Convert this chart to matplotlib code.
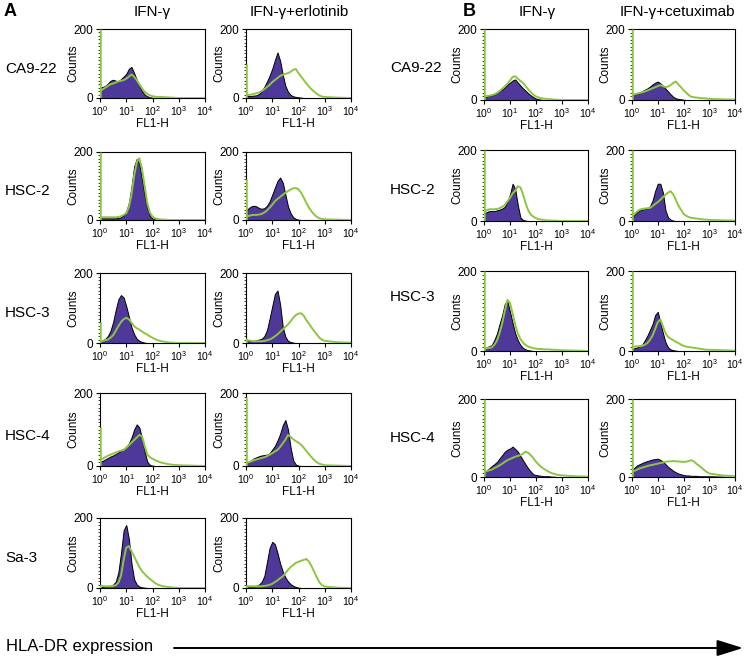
import numpy as np
import matplotlib
matplotlib.use('Agg')
import matplotlib.pyplot as plt
from matplotlib.ticker import FixedLocator, LogLocator, NullFormatter

plt.rcParams['font.family'] = ['Liberation Sans', 'DejaVu Sans']
plt.rcParams['mathtext.fontset'] = 'custom'
plt.rcParams['mathtext.rm'] = 'Liberation Sans'
plt.rcParams['mathtext.it'] = 'Liberation Sans:italic'
plt.rcParams['mathtext.bf'] = 'Liberation Sans:bold'

# ---------------- data ----------------
# log10(FL1-H) positions shared by every histogram
x_log = [0.0, 0.1, 0.2, 0.3, 0.4, 0.5, 0.6, 0.7, 0.8, 0.9,
         1.0, 1.1, 1.2, 1.3, 1.4, 1.5, 1.6, 1.7, 1.8, 1.9,
         2.0, 2.1, 2.2, 2.3, 2.4, 2.5, 2.6, 2.7, 2.8, 2.9,
         3.0, 3.5, 4.0]

x_ticks = [1, 10, 100, 1000, 10000]
x_tick_labels = ['10$^{0}$', '10$^{1}$', '10$^{2}$', '10$^{3}$', '10$^{4}$']
y_ticks = [0, 200]

panel_a_lines = ['CA9-22', 'HSC-2', 'HSC-3', 'HSC-4', 'Sa-3']
panel_a_headers = ['IFN-\u03b3', 'IFN-\u03b3+erlotinib']
panel_b_lines = ['CA9-22', 'HSC-2', 'HSC-3', 'HSC-4']
panel_b_headers = ['IFN-\u03b3', 'IFN-\u03b3+cetuximab']

# Panel A, IFN-gamma column (purple = filled, green = outline)
a_ca922_ifn_purple = [30, 32, 35, 42, 50, 53, 50, 48, 55, 62, 70, 85, 90, 72, 53, 35, 20, 10, 5, 2, 1, 0, 0, 0, 0, 0, 0, 0, 0, 0, 0, 0, 0]
a_ca922_ifn_green = [20, 25, 30, 35, 40, 42, 45, 48, 50, 52, 56, 62, 68, 62, 52, 40, 28, 18, 12, 8, 5, 4, 3, 3, 3, 2, 2, 1, 1, 0, 0, 0, 0]
a_hsc2_ifn_purple = [5, 5, 5, 5, 5, 5, 5, 6, 8, 14, 25, 50, 98, 158, 180, 165, 120, 72, 35, 12, 5, 2, 1, 0, 0, 0, 0, 0, 0, 0, 0, 0, 0]
a_hsc2_ifn_green = [8, 8, 8, 8, 8, 8, 8, 9, 11, 15, 20, 38, 75, 130, 170, 182, 150, 100, 50, 22, 10, 5, 3, 2, 1, 1, 0, 0, 0, 0, 0, 0, 0]
a_hsc3_ifn_purple = [5, 8, 12, 20, 35, 60, 95, 125, 137, 130, 105, 75, 45, 25, 12, 6, 3, 1, 0, 0, 0, 0, 0, 0, 0, 0, 0, 0, 0, 0, 0, 0, 0]
a_hsc3_ifn_green = [5, 6, 8, 10, 15, 22, 35, 48, 60, 68, 72, 68, 58, 48, 42, 38, 33, 28, 24, 19, 15, 11, 8, 6, 4, 3, 2, 1, 1, 0, 0, 0, 0]
a_hsc4_ifn_purple = [12, 14, 18, 22, 26, 29, 33, 37, 42, 47, 52, 62, 78, 100, 114, 105, 75, 40, 12, 3, 1, 0, 0, 0, 0, 0, 0, 0, 0, 0, 0, 0, 0]
a_hsc4_ifn_green = [16, 20, 24, 28, 31, 34, 37, 40, 42, 44, 50, 57, 64, 71, 78, 85, 82, 55, 32, 24, 20, 16, 13, 10, 8, 7, 5, 4, 3, 3, 2, 1, 0]
a_sa3_ifn_purple = [3, 4, 5, 5, 6, 10, 18, 45, 100, 165, 180, 140, 70, 25, 10, 4, 2, 1, 0, 0, 0, 0, 0, 0, 0, 0, 0, 0, 0, 0, 0, 0, 0]
a_sa3_ifn_green = [6, 6, 5, 5, 5, 6, 8, 15, 35, 80, 115, 120, 105, 90, 75, 60, 48, 40, 32, 26, 20, 14, 10, 7, 5, 4, 3, 2, 1, 1, 0, 0, 0]

# Panel A, IFN-gamma + erlotinib column
a_ca922_erl_purple = [6, 6, 6, 7, 8, 12, 20, 33, 48, 65, 85, 110, 132, 108, 68, 35, 18, 9, 5, 3, 2, 1, 0, 0, 0, 0, 0, 0, 0, 0, 0, 0, 0]
a_ca922_erl_green = [8, 9, 10, 12, 14, 16, 20, 26, 32, 38, 46, 52, 58, 64, 67, 70, 72, 76, 82, 84, 72, 62, 52, 42, 33, 25, 18, 12, 7, 4, 3, 1, 0]
a_hsc2_erl_purple = [25, 35, 40, 42, 40, 35, 33, 35, 42, 55, 75, 95, 115, 125, 110, 75, 40, 20, 8, 3, 1, 0, 0, 0, 0, 0, 0, 0, 0, 0, 0, 0, 0]
a_hsc2_erl_green = [10, 12, 14, 15, 15, 16, 18, 22, 28, 36, 45, 55, 62, 68, 74, 80, 85, 90, 93, 94, 90, 80, 66, 50, 36, 25, 16, 9, 5, 3, 2, 1, 0]
a_hsc3_erl_purple = [6, 6, 6, 6, 8, 10, 12, 20, 37, 70, 105, 140, 150, 110, 46, 18, 6, 3, 1, 0, 0, 0, 0, 0, 0, 0, 0, 0, 0, 0, 0, 0, 0]
a_hsc3_erl_green = [8, 7, 6, 5, 5, 5, 5, 6, 8, 10, 14, 19, 25, 32, 39, 46, 53, 62, 72, 80, 84, 85, 78, 65, 55, 44, 34, 24, 15, 9, 6, 2, 1]
a_hsc4_erl_purple = [7, 10, 16, 21, 24, 27, 29, 30, 31, 35, 45, 55, 70, 88, 112, 126, 100, 50, 15, 4, 1, 0, 0, 0, 0, 0, 0, 0, 0, 0, 0, 0, 0]
a_hsc4_erl_green = [7, 10, 13, 16, 18, 20, 22, 24, 27, 31, 35, 40, 44, 52, 62, 72, 85, 80, 73, 68, 64, 58, 50, 41, 32, 24, 16, 10, 6, 4, 2, 1, 0]
a_sa3_erl_purple = [4, 4, 4, 5, 6, 10, 18, 35, 75, 115, 132, 125, 100, 70, 47, 30, 19, 11, 6, 3, 1, 0, 0, 0, 0, 0, 0, 0, 0, 0, 0, 0, 0]
a_sa3_erl_green = [5, 5, 5, 5, 5, 5, 5, 6, 7, 9, 12, 17, 22, 28, 33, 42, 52, 60, 66, 72, 75, 78, 80, 83, 75, 62, 46, 30, 16, 8, 4, 1, 0]

# Panel B, IFN-gamma column
b_ca922_ifn_purple = [9, 10, 12, 14, 16, 21, 25, 30, 36, 43, 49, 55, 58, 49, 41, 33, 26, 19, 13, 8, 4, 2, 1, 0, 0, 0, 0, 0, 0, 0, 0, 0, 0]
b_ca922_ifn_green = [10, 11, 12, 14, 16, 20, 25, 32, 38, 46, 55, 65, 67, 60, 54, 48, 39, 30, 22, 15, 10, 7, 5, 4, 3, 2, 2, 1, 1, 0, 0, 0, 0]
b_hsc2_ifn_purple = [20, 25, 28, 28, 28, 30, 32, 35, 40, 55, 75, 105, 90, 45, 10, 3, 1, 0, 0, 0, 0, 0, 0, 0, 0, 0, 0, 0, 0, 0, 0, 0, 0]
b_hsc2_ifn_green = [25, 30, 33, 33, 33, 34, 36, 40, 45, 55, 65, 78, 85, 98, 95, 75, 50, 30, 18, 12, 8, 5, 4, 3, 2, 2, 1, 1, 1, 0, 0, 0, 0]
b_hsc3_ifn_purple = [7, 9, 12, 15, 28, 44, 68, 90, 118, 124, 98, 70, 44, 27, 15, 8, 4, 2, 1, 0, 0, 0, 0, 0, 0, 0, 0, 0, 0, 0, 0, 0, 0]
b_hsc3_ifn_green = [6, 7, 8, 9, 16, 26, 45, 69, 100, 128, 120, 94, 66, 44, 30, 21, 15, 11, 9, 7, 6, 5, 5, 4, 4, 4, 3, 3, 3, 2, 2, 1, 0]
b_hsc4_ifn_purple = [13, 17, 22, 28, 33, 39, 48, 56, 65, 70, 73, 78, 72, 65, 54, 43, 32, 22, 14, 7, 5, 4, 3, 2, 2, 2, 1, 1, 0, 0, 0, 0, 0]
b_hsc4_ifn_green = [13, 15, 17, 19, 23, 26, 30, 34, 39, 43, 46, 49, 52, 54, 56, 60, 65, 62, 56, 48, 39, 32, 26, 21, 17, 13, 10, 8, 6, 5, 4, 2, 1]

# Panel B, IFN-gamma + cetuximab column
b_ca922_cet_purple = [14, 16, 18, 21, 25, 29, 33, 38, 44, 49, 52, 47, 40, 32, 24, 16, 9, 5, 3, 2, 1, 0, 0, 0, 0, 0, 0, 0, 0, 0, 0, 0, 0]
b_ca922_cet_green = [14, 16, 18, 20, 22, 24, 27, 30, 33, 36, 39, 42, 39, 36, 38, 42, 48, 52, 44, 36, 28, 21, 14, 9, 8, 7, 6, 5, 5, 4, 3, 2, 1]
b_hsc2_cet_purple = [11, 18, 25, 30, 32, 34, 35, 42, 58, 85, 105, 105, 80, 30, 10, 4, 1, 0, 0, 0, 0, 0, 0, 0, 0, 0, 0, 0, 0, 0, 0, 0, 0]
b_hsc2_cet_green = [13, 20, 27, 32, 34, 35, 36, 37, 42, 48, 53, 60, 67, 74, 80, 84, 75, 60, 44, 32, 20, 15, 11, 9, 8, 7, 6, 5, 4, 4, 3, 2, 1]
b_hsc3_cet_purple = [5, 7, 9, 12, 16, 27, 39, 53, 68, 90, 98, 72, 45, 22, 9, 4, 2, 1, 0, 0, 0, 0, 0, 0, 0, 0, 0, 0, 0, 0, 0, 0, 0]
b_hsc3_cet_green = [10, 11, 12, 12, 13, 16, 20, 28, 39, 55, 72, 79, 62, 45, 35, 31, 27, 23, 20, 16, 13, 11, 10, 9, 8, 7, 6, 5, 4, 3, 3, 2, 1]
b_hsc4_cet_purple = [17, 24, 30, 33, 36, 39, 41, 43, 45, 46, 47, 44, 39, 33, 26, 21, 16, 12, 9, 7, 5, 4, 4, 3, 3, 3, 2, 2, 2, 2, 2, 1, 0]
b_hsc4_cet_green = [13, 16, 19, 22, 24, 26, 28, 30, 31, 33, 34, 36, 37, 39, 40, 40, 41, 40, 40, 39, 39, 39, 41, 43, 40, 34, 29, 24, 18, 13, 9, 4, 2]

# height of the off-scale first-channel (green) spike at FL1-H = 10^0
a_ifn_spike = [200, 200, 60, 107, 10]
a_erl_spike = [100, 120, 15, 190, 10]
b_ifn_spike = [200, 200, 200, 200]
b_cet_spike = [200, 200, 200, 200]

# ---------------- layout ----------------
W, H = 746, 657
fig = plt.figure(figsize=(W / 100, H / 100), dpi=100)

PURPLE = '#4e3899'
GREEN = '#8cc63f'

a_cols = [(100, 205), (246, 351)]
a_rows = [(29, 98), (152, 220), (273, 343), (393, 466), (518, 588)]
b_cols = [(484, 588), (632, 735)]
b_rows = [(29, 100), (150, 221), (271, 351), (399, 477)]

xv = 10 ** np.array(x_log)


def add_ax(l, r, t, b):
    return fig.add_axes([l / W, 1 - b / H, (r - l) / W, (b - t) / H])


def draw_hist(ax, purple, green, spike, t, b):
    ax.fill_between(xv, 0, purple, facecolor=PURPLE, edgecolor='black',
                    linewidth=0.7, zorder=2)
    ax.plot(xv, green, color=GREEN, lw=1.4, zorder=3)
    ax.vlines(1.04, 0, spike, color=GREEN, lw=1.8, zorder=3)
    ax.set_xscale('log')
    ax.set_xlim(1, 1e4)
    ax.set_ylim(0, 200)
    ax.set_xticks(x_ticks)
    ax.set_xticklabels(x_tick_labels, fontsize=7.5)
    ax.xaxis.set_minor_locator(LogLocator(base=10, subs=np.arange(2, 10)))
    ax.xaxis.set_minor_formatter(NullFormatter())
    ax.set_yticks(y_ticks)
    ax.set_yticklabels([str(v) for v in y_ticks], fontsize=8.5)
    ax.yaxis.set_minor_locator(FixedLocator(np.arange(0, 201, 10)))
    ax.tick_params(which='major', direction='out', length=3, width=0.8, pad=2)
    ax.tick_params(axis='x', which='major', pad=1.2)
    ax.tick_params(which='minor', direction='out', length=1.6, width=0.5)
    for s in ax.spines.values():
        s.set_linewidth(0.8)
    ax.set_xlabel('FL1-H', fontsize=8.5, va='top')
    ax.xaxis.set_label_coords(0.5, -20.0 / (b - t))
    ax.set_ylabel('Counts', fontsize=8.5)
    ax.yaxis.set_label_coords(-0.2, 0.5)


a_ifn = [(a_ca922_ifn_purple, a_ca922_ifn_green), (a_hsc2_ifn_purple, a_hsc2_ifn_green),
         (a_hsc3_ifn_purple, a_hsc3_ifn_green), (a_hsc4_ifn_purple, a_hsc4_ifn_green),
         (a_sa3_ifn_purple, a_sa3_ifn_green)]
a_erl = [(a_ca922_erl_purple, a_ca922_erl_green), (a_hsc2_erl_purple, a_hsc2_erl_green),
         (a_hsc3_erl_purple, a_hsc3_erl_green), (a_hsc4_erl_purple, a_hsc4_erl_green),
         (a_sa3_erl_purple, a_sa3_erl_green)]
b_ifn = [(b_ca922_ifn_purple, b_ca922_ifn_green), (b_hsc2_ifn_purple, b_hsc2_ifn_green),
         (b_hsc3_ifn_purple, b_hsc3_ifn_green), (b_hsc4_ifn_purple, b_hsc4_ifn_green)]
b_cet = [(b_ca922_cet_purple, b_ca922_cet_green), (b_hsc2_cet_purple, b_hsc2_cet_green),
         (b_hsc3_cet_purple, b_hsc3_cet_green), (b_hsc4_cet_purple, b_hsc4_cet_green)]

for i, (t, b) in enumerate(a_rows):
    for j, (data, spikes) in enumerate([(a_ifn, a_ifn_spike), (a_erl, a_erl_spike)]):
        l, r = a_cols[j]
        ax = add_ax(l, r, t, b)
        draw_hist(ax, data[i][0], data[i][1], spikes[i], t, b)

for i, (t, b) in enumerate(b_rows):
    for j, (data, spikes) in enumerate([(b_ifn, b_ifn_spike), (b_cet, b_cet_spike)]):
        l, r = b_cols[j]
        ax = add_ax(l, r, t, b)
        draw_hist(ax, data[i][0], data[i][1], spikes[i], t, b)


def ftext(x, y, s, **kw):
    fig.text(x / W, 1 - y / H, s, **kw)


ftext(4, 11, 'A', fontsize=13, fontweight='bold', va='center', ha='left')
ftext(463, 11, 'B', fontsize=13, fontweight='bold', va='center', ha='left')
ftext(152, 12, panel_a_headers[0], fontsize=11, ha='center', va='center')
ftext(299, 12, panel_a_headers[1], fontsize=11, ha='center', va='center')
ftext(537, 12, panel_b_headers[0], fontsize=11, ha='center', va='center')
ftext(677, 12, panel_b_headers[1], fontsize=11, ha='center', va='center')

a_label_y = [69, 191, 313, 436, 558]
for name, y in zip(panel_a_lines, a_label_y):
    ftext(5, y, name, fontsize=11, ha='left', va='center')
b_label_y = [68, 190, 297, 438]
for name, y in zip(panel_b_lines, b_label_y):
    ftext(390, y, name, fontsize=11, ha='left', va='center')

ftext(6, 646, 'HLA-DR expression', fontsize=12, ha='left', va='center')
fig.patches.append(matplotlib.patches.FancyArrowPatch(
    (174 / W, 1 - 648 / H), (743 / W, 1 - 648 / H), transform=fig.transFigure,
    arrowstyle='-|>,head_length=16,head_width=5', lw=1.4, color='black',
    shrinkA=0, shrinkB=0, mutation_scale=1))

fig.savefig('out.png', dpi=100)
